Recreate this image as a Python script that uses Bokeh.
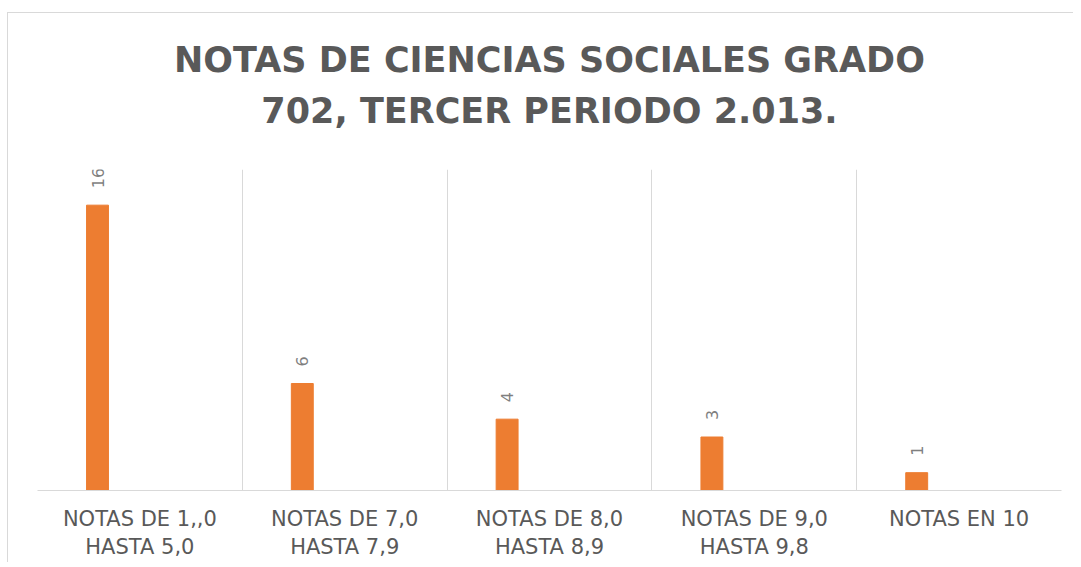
import math
from bokeh.plotting import figure
from bokeh.layouts import column
from bokeh.models import Range1d, FixedTicker, ColumnDataSource
from bokeh.embed import file_html
from bokeh.resources import INLINE
from bokeh.core.properties import value

title_lines = ["NOTAS DE CIENCIAS SOCIALES GRADO", "702, TERCER PERIODO 2.013."]
categories = [
    "NOTAS DE 1,,0\nHASTA 5,0",
    "NOTAS DE 7,0\nHASTA 7,9",
    "NOTAS DE 8,0\nHASTA 8,9",
    "NOTAS DE 9,0\nHASTA 9,8",
    "NOTAS EN 10",
]
values = [16, 6, 4, 3, 1]

BAR_OFFSET = -0.207
BAR_WIDTH = 0.107
W = 1066
TITLE_H = 157
LEFT, RIGHT = 29, 13

idx = list(range(len(categories)))
src = ColumnDataSource(dict(
    x=[i + BAR_OFFSET for i in idx],
    y=values,
    label=[str(v) for v in values],
))

# ---- title strip (same horizontal frame as the chart, so it centres over it)
x_start, x_end = -0.5, len(categories) - 0.5
t = figure(
    width=W, height=TITLE_H,
    x_range=Range1d(x_start, x_end), y_range=Range1d(0, TITLE_H),
    output_backend="svg", toolbar_location=None, tools="",
    min_border=0, min_border_left=LEFT, min_border_right=RIGHT,
)
t.margin = (12, 0, 0, 7)
t.styles = {"border-top": "1px solid #D9D9D9", "border-left": "1px solid #D9D9D9"}
t.axis.visible = False
t.grid.visible = False
t.outline_line_color = None
tsrc = ColumnDataSource(dict(
    x=[(x_start + x_end) / 2] * 2,
    y=[111, 60],
    text=title_lines,
))
t.text(x="x", y="y", text="text", source=tsrc, text_align="center",
       text_baseline="alphabetic", text_font=value("DejaVu Sans"),
       text_font_style="bold", text_font_size="35px", text_color="#595959")

# ---- chart
p = figure(
    width=W, height=393,
    x_range=Range1d(x_start, x_end),
    y_range=Range1d(0, 18),
    output_backend="svg", toolbar_location=None, tools="",
    min_border_left=LEFT, min_border_right=RIGHT, min_border_bottom=72, min_border_top=0,
)
p.margin = (0, 0, 0, 7)
p.styles = {"border-left": "1px solid #D9D9D9"}

p.vbar(x="x", top="y", width=BAR_WIDTH, bottom=0, source=src,
       fill_color="#ED7D31", line_color="#ED7D31")

p.text(x="x", y="y", text="label", source=src, angle=math.pi / 2,
       text_align="left", text_baseline="middle", y_offset=-17,
       text_font=value("DejaVu Sans"), text_font_size="16px", text_color="#7F7F7F")

p.yaxis.visible = False
p.ygrid.visible = False
p.xgrid.ticker = FixedTicker(ticks=[i - 0.5 for i in range(len(categories) + 1)])
p.xgrid.grid_line_color = "#D9D9D9"
p.xgrid.grid_line_width = 1

ax = p.xaxis[0]
ax.ticker = FixedTicker(ticks=idx)
ax.major_label_overrides = {i: c for i, c in zip(idx, categories)}
ax.axis_line_color = "#D9D9D9"
ax.major_tick_line_color = None
ax.minor_tick_line_color = None
ax.major_label_text_font = "DejaVu Sans"
ax.major_label_text_font_size = "21px"
ax.major_label_text_color = "#595959"
ax.major_label_text_line_height = 1.2
ax.major_label_standoff = 10

p.outline_line_color = None
p.background_fill_color = "white"
p.border_fill_color = "white"

layout = column(t, p, spacing=0)
open("out.html", "w").write(file_html(layout, INLINE))
